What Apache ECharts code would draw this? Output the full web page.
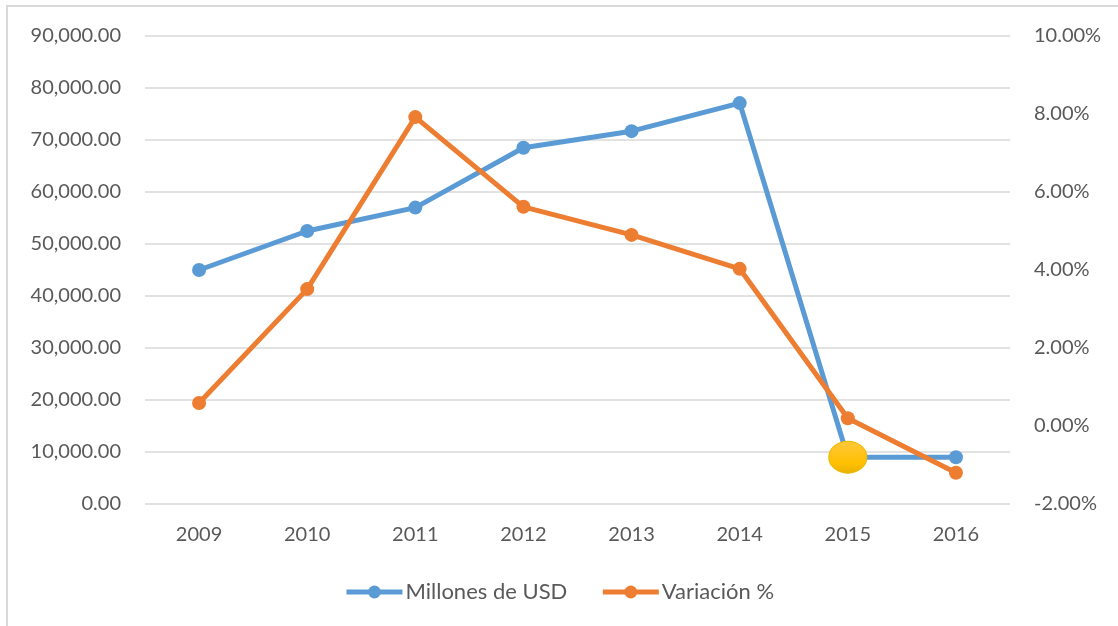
<!DOCTYPE html>
<html><head><meta charset="utf-8">
<script src="https://cdn.jsdelivr.net/npm/echarts@6/dist/echarts.min.js"></script>
<style>html,body{margin:0;padding:0;background:#fff}#c{width:1118px;height:626px}</style>
</head><body><div id="c"></div>
<script>
var categories = ['2009','2010','2011','2012','2013','2014','2015','2016'];
var millonesUSD = [45000, 52500, 57000, 68500, 71700, 77100, 9000, 9000];
var variacion = [0.59, 3.51, 7.92, 5.62, 4.90, 4.03, 0.20, -1.20];
var highlightIndex = 6;

var font = 'Lato, "Open Sans", sans-serif';
var chart = echarts.init(document.getElementById('c'));
var blueData = millonesUSD.map(function(v, i){
  if (i === highlightIndex) {
    return {value: v, symbolSize: [38, 32], itemStyle: {
      color: new echarts.graphic.LinearGradient(0,0,0,1,[{offset:0,color:'#FFC83D'},{offset:0.7,color:'#FFC000'},{offset:1,color:'#E8B000'}]),
      borderColor: '#F0B800', borderWidth: 1}};
  }
  return v;
});
chart.setOption({
  animation: false,
  backgroundColor: '#fff',
  graphic: [{type:'rect', shape:{x:7, y:6, width:1130, height:640}, style:{fill:'none', stroke:'#D9D9D9', lineWidth:2}, z:-1}],
  grid: {left:145, right:108, top:36, bottom:122, containLabel:false},
  legend: {
    top: 576, left: 'center', itemWidth: 56, itemHeight: 16, itemGap: 33,
    lineStyle: {width: 5},
    textStyle: {fontFamily: font, fontSize: 22, color: '#595959', padding: [0,0,0,-2]},
    data: ['Millones de USD', 'Variación %']
  },
  xAxis: {
    type: 'category', data: categories, boundaryGap: true,
    axisLine: {show: false}, axisTick: {show: false},
    axisLabel: {fontFamily: font, fontSize: 20, color: '#595959', margin: 21}
  },
  yAxis: [{
    type: 'value', min: 0, max: 90000, interval: 10000,
    axisLine:{show:false}, axisTick:{show:false},
    splitLine: {lineStyle: {color: '#D9D9D9', width: 1.5}},
    axisLabel: {fontFamily: font, fontSize: 20, color: '#595959', margin: 24,
      formatter: function(v){ return v.toLocaleString('en-US', {minimumFractionDigits:2, maximumFractionDigits:2}); }}
  },{
    type: 'value', min: -2, max: 10, interval: 2, position: 'right',
    axisLine:{show:false}, axisTick:{show:false}, splitLine:{show:false},
    axisLabel: {fontFamily: font, fontSize: 20, color: '#595959', margin: 24,
      formatter: function(v){ return v.toFixed(2) + '%'; }}
  }],
  series: [{
    name: 'Millones de USD', type: 'line', yAxisIndex: 0, data: blueData,
    symbol: 'circle', symbolSize: 14,
    lineStyle: {color: '#5B9BD5', width: 5}, itemStyle: {color: '#5B9BD5'}, z: 2
  },{
    name: 'Variación %', type: 'line', yAxisIndex: 1, data: variacion,
    symbol: 'circle', symbolSize: 14,
    lineStyle: {color: '#ED7D31', width: 5}, itemStyle: {color: '#ED7D31'}, z: 3
  }]
});
</script></body></html>
